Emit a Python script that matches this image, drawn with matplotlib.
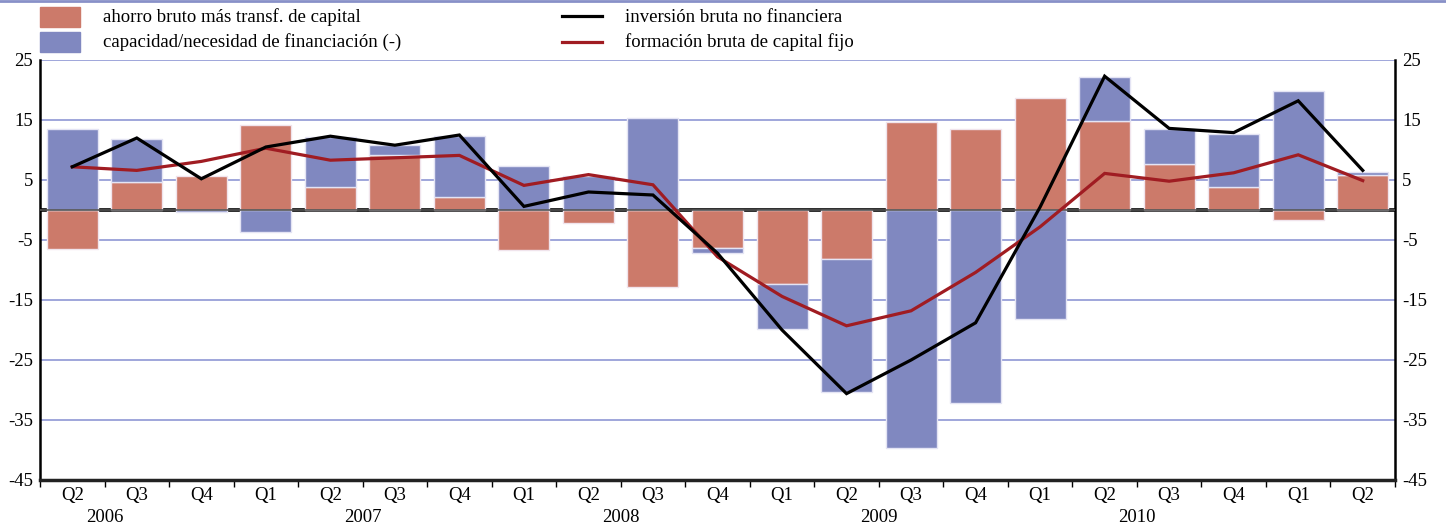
import matplotlib
matplotlib.use("Agg")
import matplotlib.pyplot as plt
import numpy as np
from matplotlib.patches import Rectangle
from matplotlib.lines import Line2D

quarters = ['Q2', 'Q3', 'Q4', 'Q1', 'Q2', 'Q3', 'Q4', 'Q1', 'Q2', 'Q3', 'Q4',
            'Q1', 'Q2', 'Q3', 'Q4', 'Q1', 'Q2', 'Q3', 'Q4', 'Q1', 'Q2']
years = ['2006', '2007', '2008', '2009', '2010']
year_centers = [0.5, 4.5, 8.5, 12.5, 16.5]

ahorro = [-6.5, 4.7, 5.6, 14.2, 3.8, 9.1, 2.1, -6.7, -2.2, -12.8, -6.3,
          -12.4, -8.2, 14.6, 13.5, 18.7, 14.9, 7.6, 3.9, -1.6, 5.8]
capacidad = [13.5, 7.2, -0.3, -3.6, 8.3, 1.7, 10.3, 7.4, 5.6, 15.4, -0.8,
             -7.5, -22.2, -39.7, -32.1, -18.2, 7.3, 5.9, 8.8, 19.9, 0.6]
inversion = [7.2, 12.0, 5.2, 10.5, 12.3, 10.8, 12.5, 0.6, 3.0, 2.5, -7.2,
             -20.0, -30.6, -25.0, -18.8, 0.5, 22.3, 13.6, 12.9, 18.2, 6.6]
formacion = [7.2, 6.6, 8.1, 10.3, 8.3, 8.7, 9.1, 4.1, 5.9, 4.2, -7.8,
             -14.4, -19.3, -16.8, -10.4, -2.8, 6.1, 4.8, 6.2, 9.2, 4.9]

labels = ['ahorro bruto más transf. de capital',
          'capacidad/necesidad de financiación (-)',
          'inversión bruta no financiera',
          'formación bruta de capital fijo']

C_OR = '#CC7A6A'
C_BL = '#8088C0'
C_BK = '#000000'
C_RD = '#A01C22'
C_GRID = '#9FA6DA'

plt.rcParams['font.family'] = ['Liberation Serif', 'DejaVu Serif']
FS = 13.5

W, H = 1446, 528
fig = plt.figure(figsize=(W / 100, H / 100), dpi=100)
ax = fig.add_axes([40 / W, 48 / H, 1355 / W, 420 / H])

x = np.arange(len(quarters))
a = np.array(ahorro)
c = np.array(capacidad)
bottom_c = np.where(np.sign(a) == np.sign(c), a, 0.0)

ax.bar(x, a, width=0.79, color=C_OR, edgecolor='#F0E4EC', linewidth=1, zorder=3)
ax.bar(x, c, width=0.79, bottom=bottom_c, color=C_BL, edgecolor='#E4E4F4', linewidth=1, zorder=3)

# zero line
ax.axhline(0, color='black', lw=2.6, zorder=2)
ax.axhline(0, color='#555555', lw=1.2, zorder=3.5)

ax.plot(x, inversion, color=C_BK, lw=2.3, zorder=5, solid_joinstyle='miter')
ax.plot(x, formacion, color=C_RD, lw=2.3, zorder=4, solid_joinstyle='miter')

ax.set_xlim(-0.5, len(quarters) - 0.5)
ax.set_ylim(-45, 25)
yt = np.arange(-45, 26, 10)
ax.set_yticks(yt)
ax.set_yticklabels([str(v) for v in yt], fontsize=FS)
for v in yt:
    if v != -45:
        ax.axhline(v, color=C_GRID, lw=1.4, zorder=1)

ax.tick_params(axis='y', length=0, pad=5, labelright=True, right=False)
ax.spines['top'].set_visible(False)
ax.spines['left'].set_linewidth(1.8)
ax.spines['right'].set_linewidth(1.8)
ax.spines['bottom'].set_linewidth(2.5)
ax.spines['bottom'].set_color('#222222')

# x ticks at boundaries
bounds = np.arange(-0.5, len(quarters), 1.0)
ax.set_xticks(bounds)
ax.set_xticklabels([''] * len(bounds))
ax.tick_params(axis='x', length=5, width=1, direction='out')
ax.set_xticks(x, minor=True)
ax.set_xticklabels(quarters, minor=True, fontsize=FS)
ax.tick_params(axis='x', which='minor', length=0, pad=5)

for yc, yr in zip(year_centers, years):
    ax.text(yc, -37 / 420, yr, transform=ax.get_xaxis_transform(),
            ha='center', va='center', fontsize=FS)

# legend (manual)
def fy(py):
    return 1 - py / H

fig.add_artist(Rectangle((40 / W, fy(27)), 40 / W, 20 / H, color=C_OR, transform=fig.transFigure))
fig.add_artist(Rectangle((40 / W, fy(52)), 40 / W, 20 / H, color=C_BL, transform=fig.transFigure))
fig.text(103 / W, fy(17), labels[0], fontsize=FS, va='center', ha='left')
fig.text(103 / W, fy(42), labels[1], fontsize=FS, va='center', ha='left')
fig.add_artist(Line2D([562 / W, 602 / W], [fy(16), fy(16)], color=C_BK, lw=2.3, transform=fig.transFigure))
fig.add_artist(Line2D([562 / W, 602 / W], [fy(42), fy(42)], color=C_RD, lw=2.3, transform=fig.transFigure))
fig.text(625 / W, fy(17), labels[2], fontsize=FS, va='center', ha='left')
fig.text(625 / W, fy(42), labels[3], fontsize=FS, va='center', ha='left')

# top border line
fig.add_artist(Line2D([0, 1], [fy(1), fy(1)], color='#8890C8', lw=2, transform=fig.transFigure))

fig.savefig('out.png', dpi=100)
